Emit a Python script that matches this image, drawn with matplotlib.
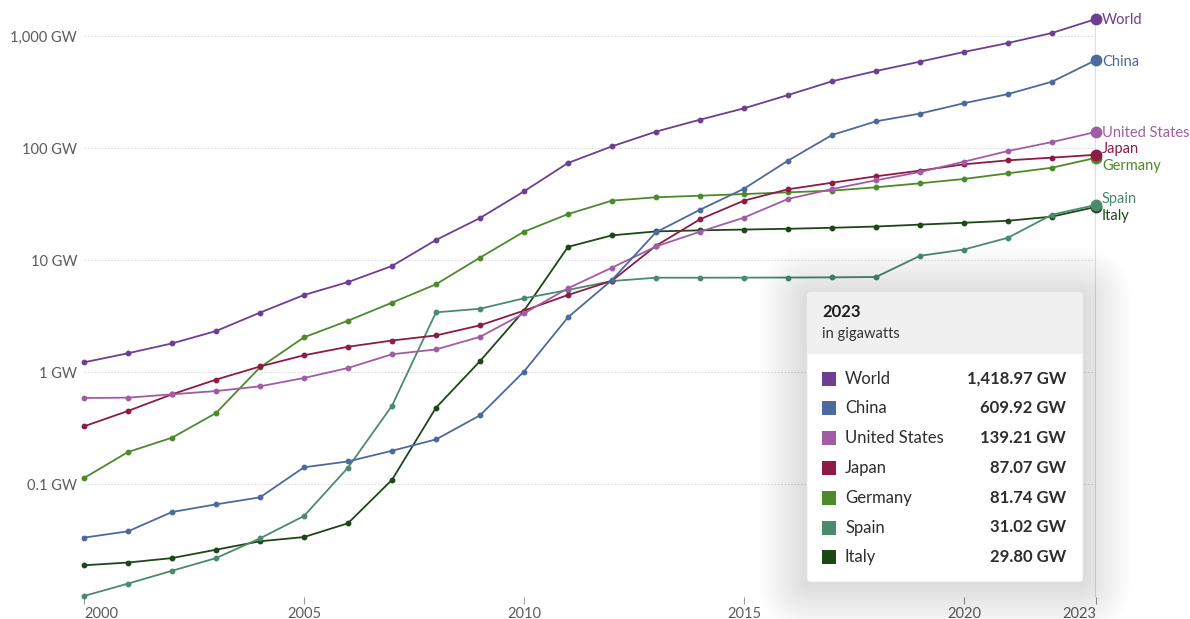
import matplotlib
matplotlib.use("Agg")
import matplotlib.pyplot as plt
from matplotlib.patches import FancyBboxPatch, Rectangle
from matplotlib.ticker import FixedLocator, FixedFormatter, NullLocator

plt.rcParams["font.family"] = ["Lato", "DejaVu Sans"]

# Installed solar capacity, gigawatts
years = list(range(2000, 2024))

world = [1.22, 1.47, 1.80, 2.32, 3.39, 4.87, 6.35, 8.84, 15.1, 23.7, 41.0, 73.5,
         103.5, 140, 179, 226, 297, 394, 487, 590, 720, 866, 1064, 1418.97]
china = [0.0332, 0.0378, 0.0562, 0.0658, 0.076, 0.141, 0.159, 0.198, 0.25, 0.41, 1.01, 3.08,
         6.63, 17.7, 28.1, 43.3, 77.1, 130.6, 173, 203, 251, 303, 391, 609.92]
united_states = [0.586, 0.59, 0.632, 0.676, 0.745, 0.884, 1.086, 1.44, 1.59, 2.06, 3.34, 5.59,
                 8.55, 13.2, 17.9, 23.9, 35.1, 43.0, 51.5, 61.0, 75.5, 94.0, 113, 139.21]
japan = [0.327, 0.449, 0.632, 0.855, 1.12, 1.41, 1.68, 1.91, 2.12, 2.61, 3.53, 4.87,
         6.53, 13.4, 23.1, 33.9, 42.8, 49.0, 55.9, 62.8, 71.5, 77.6, 82.0, 87.07]
germany = [0.113, 0.193, 0.259, 0.43, 1.10, 2.04, 2.87, 4.16, 6.07, 10.5, 17.9, 25.7,
           33.9, 36.3, 37.5, 38.8, 40.2, 41.6, 44.6, 48.4, 52.9, 59.4, 66.7, 81.74]
spain = [0.0100, 0.0129, 0.0168, 0.0218, 0.0327, 0.0518, 0.14, 0.50, 3.41, 3.67, 4.55, 5.4,
         6.49, 6.95, 6.95, 6.96, 6.97, 7.0, 7.05, 10.9, 12.4, 15.8, 25.4, 31.02]
italy = [0.0188, 0.0199, 0.0218, 0.0259, 0.0308, 0.0336, 0.0446, 0.109, 0.48, 1.25, 3.53, 13.1,
         16.6, 18.0, 18.4, 18.7, 19.0, 19.4, 19.9, 20.7, 21.5, 22.4, 24.4, 29.80]

names = ["World", "China", "United States", "Japan", "Germany", "Spain", "Italy"]
series = [world, china, united_states, japan, germany, spain, italy]
colors = ["#6D3E91", "#4C6A9C", "#A05CA5", "#8E1A45", "#4C8A2C", "#4A8A6E", "#1E4719"]
value_labels = ["1,418.97 GW", "609.92 GW", "139.21 GW", "87.07 GW", "81.74 GW", "31.02 GW", "29.80 GW"]
# vertical nudge (pixels) for end labels that would otherwise overlap
label_nudge_px = [-1, -2, -1, 5.5, -8.5, 6, -9.5]

y_ticks = [0.1, 1, 10, 100, 1000]
y_tick_labels = ["0.1 GW", "1 GW", "10 GW", "100 GW", "1,000 GW"]
x_ticks = [2000, 2005, 2010, 2015, 2020, 2023]

W, H = 1190, 619
fig = plt.figure(figsize=(W / 100, H / 100), dpi=100)
fig.patch.set_facecolor("white")

left_px, right_px, top_px, bottom_px = 84, 1096, 10, 597
ax = fig.add_axes([left_px / W, 1 - bottom_px / H, (right_px - left_px) / W, (bottom_px - top_px) / H])
ax.set_yscale("log")
ax.set_xlim(2000, 2023)
# decade spacing of 112 px: 1 GW sits at y=372 px
lo = 10 ** ((372 - bottom_px) / 112)
hi = 10 ** ((372 - top_px) / 112)
ax.set_ylim(lo, hi)

for s in ax.spines.values():
    s.set_visible(False)

ax.yaxis.set_major_locator(FixedLocator(y_ticks))
ax.yaxis.set_major_formatter(FixedFormatter(y_tick_labels))
ax.yaxis.set_minor_locator(NullLocator())
ax.tick_params(axis="y", length=0, pad=5, labelsize=10.5, labelcolor="#5b5b5b")
ax.grid(axis="y", color="#dcdcdc", linestyle=(0, (1.5, 1.5)), linewidth=0.8)
ax.set_axisbelow(True)

ax.set_xticks(x_ticks)
ax.set_xticklabels([str(x) for x in x_ticks])
ax.tick_params(axis="x", length=5, width=0.8, color="#999999", pad=2,
               labelsize=10.5, labelcolor="#5b5b5b")
xl = ax.get_xticklabels()
xl[0].set_ha("left")
xl[-1].set_ha("right")

# hover line at the last year
ax.axvline(2023, color="#e0e0e0", linewidth=1.6, zorder=1, ymin=0, ymax=1)

for i in range(len(series) - 1, -1, -1):
    vals, c = series[i], colors[i]
    ax.plot(years, vals, color=c, linewidth=1.3, marker="o", markersize=3.2,
            clip_on=False, zorder=3 + (len(series) - i) * 0.1, solid_joinstyle="round")
    ax.plot([years[-1]], [vals[-1]], marker="o", markersize=7.5, color=c,
            clip_on=False, zorder=4 + (len(series) - i) * 0.1)
    ax.annotate(names[i], xy=(years[-1], vals[-1]), xytext=(4.3, label_nudge_px[i] * 0.72),
                textcoords="offset points", ha="left", va="center", fontsize=10.5,
                color=c, annotation_clip=False, zorder=6)

# tooltip panel drawn on a pixel-space overlay
ov = fig.add_axes([0, 0, 1, 1], facecolor="none")
ov.set_xlim(0, W)
ov.set_ylim(H, 0)
ov.axis("off")

bx0, by0, bx1, by1 = 807, 292, 1083, 582
for k in range(18):
    g = 2 + k * 2.8
    ov.add_patch(FancyBboxPatch((bx0 - g + 2, by0 - g + 6), bx1 - bx0 + 2 * g - 4, by1 - by0 + 2 * g - 6,
                                boxstyle="round,pad=0,rounding_size=%f" % (4 + g),
                                facecolor="#000000", edgecolor="none", alpha=0.009, zorder=10))
ov.add_patch(FancyBboxPatch((bx0, by0), bx1 - bx0, by1 - by0,
                            boxstyle="round,pad=0,rounding_size=4",
                            facecolor="white", edgecolor="#e6e6e6", linewidth=0.6, zorder=11))
ov.add_patch(FancyBboxPatch((bx0 + 0.5, by0 + 0.5), bx1 - bx0 - 1, 61,
                            boxstyle="round,pad=0,rounding_size=4",
                            facecolor="#f0f0f0", edgecolor="none", zorder=12))
ov.add_patch(Rectangle((bx0 + 0.5, by0 + 50), bx1 - bx0 - 1, 12,
                       facecolor="#f0f0f0", edgecolor="none", zorder=12))

ov.text(822, 312, "2023", fontsize=12, fontweight="bold", color="#1d1d1d",
        ha="left", va="center", zorder=13)
ov.text(822, 334, "in gigawatts", fontsize=10.5, color="#333333", ha="left", va="center", zorder=13)

row_y0, row_dy = 378.5, 29.8
for i, name in enumerate(names):
    ry = row_y0 + i * row_dy
    ov.add_patch(Rectangle((822, ry - 7), 14, 14, facecolor=colors[i], edgecolor="none", zorder=13))
    ov.text(845, ry, name, fontsize=12, color="#2d2d2d", ha="left", va="center", zorder=13)
    ov.text(1066, ry, value_labels[i], fontsize=12, fontweight="bold", color="#2d2d2d",
            ha="right", va="center", zorder=13)

fig.savefig("out.png", dpi=100, facecolor="white")
